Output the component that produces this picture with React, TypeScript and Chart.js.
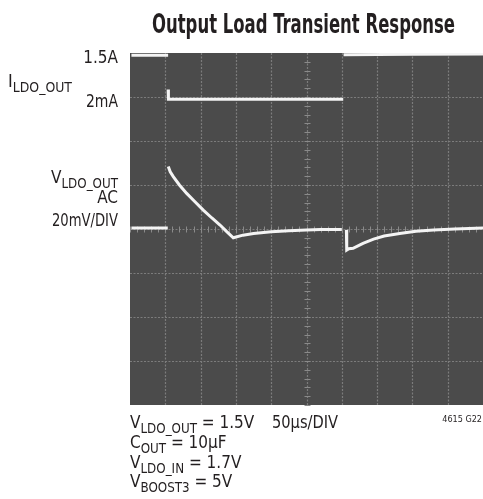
import React, { useEffect, useRef } from "react";
import { Chart, registerables } from "chart.js";

Chart.register(...registerables);

// time axis (µs), 50µs/DIV, 10 divisions
const X_MIN = 0;
const X_MAX = 500;
const X_STEP = 50;
// vertical axis in scope divisions (8 divisions)
const Y_MIN = 0;
const Y_MAX = 8;
const Y_STEP = 1;

// I_LDO_OUT trace (divisions)
const currentT = [2, 54, 54, 54, 54.4, 302, 302, 302.5, 400, 500];
const currentV = [7.95, 7.95, null, 7.17, 6.95, 6.95, null, 7.96, 7.97, 7.98];

// V_LDO_OUT AC trace (divisions)
const voltageT = [
  2, 53.5, 53.8,
  54.2, 57, 61.3, 70, 80.3, 92, 103.8, 116, 127.5, 137, 146.3,
  160, 175, 200, 225, 250, 270, 300,
  301, 306.5, 307, 310, 316, 330, 345, 360, 382, 405, 430, 460, 500,
];
const voltageV = [
  4.02, 4.02, null,
  5.42, 5.3, 5.19, 5.0, 4.81, 4.62, 4.43, 4.25, 4.09, 3.94, 3.8,
  3.86, 3.9, 3.94, 3.96, 3.98, 3.99, 3.99,
  null, 3.98, 3.52, 3.55, 3.56, 3.675, 3.77, 3.84, 3.9, 3.95, 3.98, 4.0, 4.02,
];

const TITLE = "Output Load Transient Response";
const FONT = "'Liberation Sans Narrow', 'DejaVu Sans Condensed', 'Arial Narrow', sans-serif";

type Part = [string, boolean];

function drawParts(
  ctx: CanvasRenderingContext2D,
  parts: Part[],
  x: number,
  y: number,
  size: number,
  align: "left" | "right",
  fitWidth?: number
) {
  const sub = size * 0.78;
  const widths = parts.map(([t, s]) => {
    ctx.font = `normal ${s ? sub : size}px ${FONT}`;
    return ctx.measureText(t).width;
  });
  const total = widths.reduce((a, b) => a + b, 0);
  const k = fitWidth ? fitWidth / total : 1;
  ctx.save();
  ctx.translate(align === "right" ? x - total * k : x, y);
  ctx.scale(k, 1);
  ctx.textAlign = "left";
  ctx.textBaseline = "alphabetic";
  let cx = 0;
  parts.forEach(([t, s], i) => {
    ctx.font = `normal ${s ? sub : size}px ${FONT}`;
    ctx.fillText(t, cx, s ? size * 0.28 : 0);
    cx += widths[i];
  });
  ctx.restore();
}

const scopePlugin = {
  id: "scope",
  beforeDatasetsDraw(chart: any) {
    const { ctx, chartArea, scales } = chart;
    const xs = scales.x;
    const ys = scales.y;
    ctx.save();
    ctx.fillStyle = "#4b4b4b";
    ctx.fillRect(chartArea.left, chartArea.top, chartArea.right - chartArea.left, chartArea.bottom - chartArea.top);
    ctx.strokeStyle = "#7c7c7c";
    ctx.lineWidth = 1.2;
    ctx.setLineDash([2, 1.5]);
    for (let t = X_MIN + X_STEP; t < X_MAX; t += X_STEP) {
      const px = Math.round(xs.getPixelForValue(t)) + 0.5;
      ctx.beginPath();
      ctx.moveTo(px, chartArea.top);
      ctx.lineTo(px, chartArea.bottom);
      ctx.stroke();
    }
    for (let v = Y_MIN + Y_STEP; v < Y_MAX; v += Y_STEP) {
      const py = Math.round(ys.getPixelForValue(v)) + 0.5;
      ctx.beginPath();
      ctx.moveTo(chartArea.left, py);
      ctx.lineTo(chartArea.right, py);
      ctx.stroke();
    }
    ctx.setLineDash([]);
    // minor ticks on center axes
    const cx = Math.round(xs.getPixelForValue((X_MIN + X_MAX) / 2)) + 0.5;
    const cy = Math.round(ys.getPixelForValue((Y_MIN + Y_MAX) / 2)) + 0.5;
    ctx.strokeStyle = "#8a8a8a";
    ctx.lineWidth = 1;
    for (let v = Y_MIN; v <= Y_MAX; v += Y_STEP / 5) {
      const py = Math.round(ys.getPixelForValue(v)) + 0.5;
      ctx.beginPath();
      ctx.moveTo(cx - 3, py);
      ctx.lineTo(cx + 3, py);
      ctx.stroke();
    }
    for (let t = X_MIN; t <= X_MAX; t += X_STEP / 5) {
      const px = Math.round(xs.getPixelForValue(t)) + 0.5;
      ctx.beginPath();
      ctx.moveTo(px, cy - 3);
      ctx.lineTo(px, cy + 3);
      ctx.stroke();
    }
    ctx.restore();
  },
  afterDraw(chart: any) {
    const { ctx } = chart;
    ctx.save();
    ctx.fillStyle = "#231f20";
    // title
    ctx.font = `bold 26px ${FONT}`;
    const tw = ctx.measureText(TITLE).width;
    const target = 303;
    ctx.save();
    ctx.translate(152, 33);
    ctx.scale(target / tw, 1);
    ctx.textAlign = "left";
    ctx.textBaseline = "alphabetic";
    ctx.fillText(TITLE, 0, 0);
    ctx.restore();

    // left labels
    drawParts(ctx, [["1.5A", false]], 118, 63, 17, "right");
    drawParts(ctx, [["I", false], ["LDO_OUT", true]], 8, 87, 17, "left", 64);
    drawParts(ctx, [["2mA", false]], 118, 107, 17, "right", 32);
    drawParts(ctx, [["V", false], ["LDO_OUT", true]], 118, 183, 17, "right", 67);
    drawParts(ctx, [["AC", false]], 118, 203, 17, "right");
    drawParts(ctx, [["20mV/DIV", false]], 118, 226, 17, "right", 66);

    // bottom notes
    drawParts(ctx, [["V", false], ["LDO_OUT", true], [" = 1.5V", false]], 130, 428, 17, "left");
    drawParts(ctx, [["50µs/DIV", false]], 272, 428, 17, "left", 66);
    drawParts(ctx, [["4615 G22", false]], 482, 422, 9, "right");
    drawParts(ctx, [["C", false], ["OUT", true], [" = 10µF", false]], 130, 448, 17, "left");
    drawParts(ctx, [["V", false], ["LDO_IN", true], [" = 1.7V", false]], 130, 468, 17, "left");
    drawParts(ctx, [["V", false], ["BOOST3", true], [" = 5V", false]], 130, 487, 17, "left");
    ctx.restore();
  },
};

export default function App() {
  const ref = useRef<HTMLCanvasElement>(null);
  useEffect(() => {
    if (!ref.current) return;
    const chart = new Chart(ref.current, {
      type: "line",
      data: {
        datasets: [
          {
            label: "I_LDO_OUT",
            data: currentT.map((t, i) => ({ x: t, y: currentV[i] as any })),
            borderColor: "#f4f4f4",
            borderWidth: 3,
            pointRadius: 0,
            spanGaps: false,
            tension: 0,
          },
          {
            label: "V_LDO_OUT",
            data: voltageT.map((t, i) => ({ x: t, y: voltageV[i] as any })),
            borderColor: "#f4f4f4",
            borderWidth: 3,
            pointRadius: 0,
            spanGaps: false,
            tension: 0,
          },
        ],
      },
      options: {
        animation: false,
        responsive: false,
        layout: { padding: { left: 130, top: 53, right: 0, bottom: 94 } },
        plugins: { legend: { display: false }, tooltip: { enabled: false }, title: { display: false } },
        scales: {
          x: { type: "linear", min: X_MIN, max: X_MAX, display: false },
          y: { type: "linear", min: Y_MIN, max: Y_MAX, display: false },
        },
      },
      plugins: [scopePlugin],
    });
    return () => chart.destroy();
  }, []);
  return (
    <div style={{ position: "absolute", left: 0, top: 0, width: 483, height: 499, background: "#fff" }}>
      <canvas ref={ref} width={483} height={499} style={{ width: 483, height: 499, display: "block" }} />
    </div>
  );
}
